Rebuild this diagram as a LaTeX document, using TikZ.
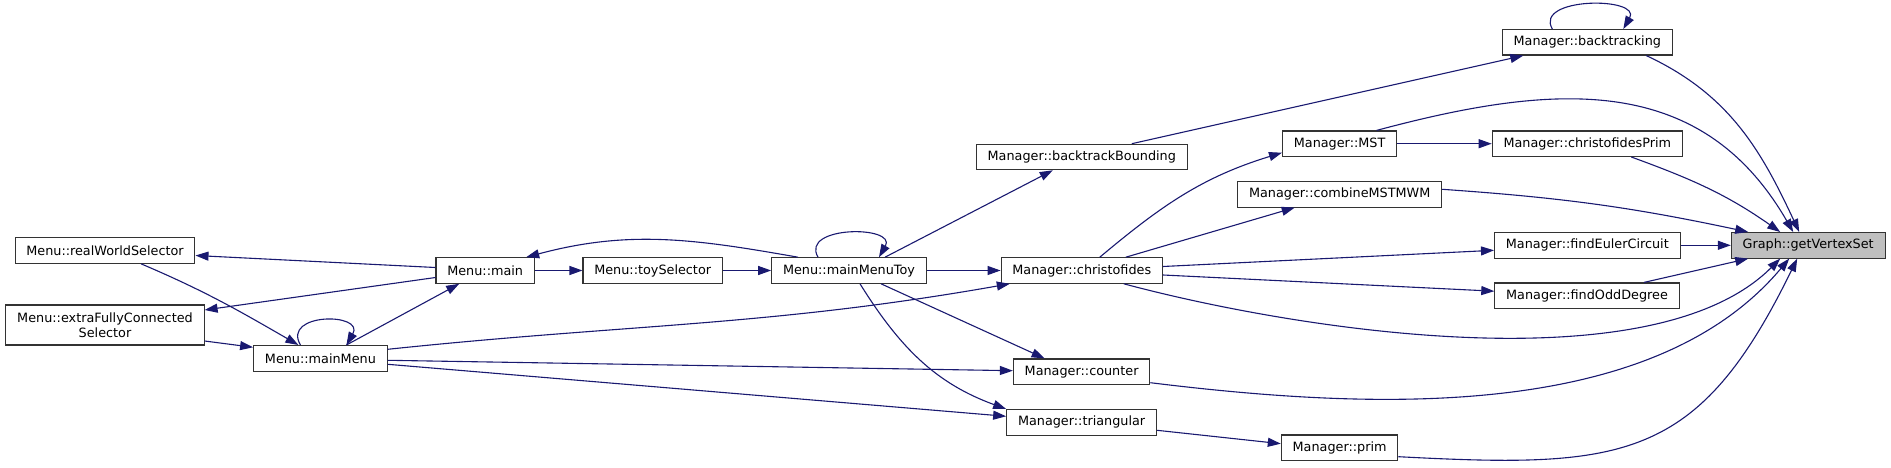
\documentclass[tikz,border=0pt]{standalone}
\usepackage{fontspec}
\setmainfont{DejaVu Sans}
\usetikzlibrary{arrows.meta, positioning}
\definecolor{edgeblue}{HTML}{191970}
\definecolor{boxgray}{HTML}{BFBFBF}

\begin{document}
\begin{tikzpicture}[x=1pt, y=1pt,
    fn/.style={draw=black!80, line width=1.1pt, fill=white, minimum height=25.5pt,
               inner xsep=11.3pt, inner ysep=0pt, font=\fontsize{12.8}{15}\selectfont},
    target/.style={fn, fill=boxgray},
    call/.style={draw=edgeblue, line width=1.1pt, -{Triangle[length=13pt,width=9pt]}}]

    \useasboundingbox (0,0) rectangle (1891,467);

    % Menu functions
    \node[fn] (rws) at (105,216.5) {Menu::realWorldSelector};
    \node[fn, align=center, minimum height=40pt] (efc) at (105,142) {Menu::extraFullyConnected\\Selector};
    \node[fn] (mm) at (320.4,108.7) {Menu::mainMenu};
    \node[fn] (main) at (485.2,196.5) {Menu::main};
    \node[fn] (toy) at (652.7,196.5) {Menu::toySelector};
    \node[fn] (mmt) at (849,196.5) {Menu::mainMenuToy};

    % Manager functions
    \node[fn] (bbound) at (1081.8,310) {Manager::backtrackBounding};
    \node[fn] (chr) at (1081.8,196.5) {Manager::christofides};
    \node[fn] (cnt) at (1081.6,95.3) {Manager::counter};
    \node[fn] (tri) at (1081.6,44.7) {Manager::triangular};
    \node[fn] (mst) at (1339.6,323.3) {Manager::MST};
    \node[fn] (comb) at (1339.7,272.7) {Manager::combineMSTMWM};
    \node[fn] (prim) at (1339.6,19.3) {Manager::prim};
    \node[fn] (bt) at (1587.3,424.7) {Manager::backtracking};
    \node[fn] (cprim) at (1587.3,323.3) {Manager::christofidesPrim};
    \node[fn] (euler) at (1587.3,221.7) {Manager::findEulerCircuit};
    \node[fn] (odd) at (1587,171.3) {Manager::findOddDegree};

    % the function itself
    \node[target] (gvs) at (1808.2,221.7) {Graph::getVertexSet};

    % callers of getVertexSet
    \draw[call] ([xshift=59pt]bt.south) to[out=-25,in=115] ([xshift=-9pt]gvs.north);
    \draw[call] ([xshift=37pt]mst.north) to[out=15,in=120,looseness=1.1] ([xshift=-15pt]gvs.north);
    \draw[call] ([xshift=44pt]cprim.south) to[out=-20,in=145] ([xshift=-28pt]gvs.north);
    \draw[call] ([yshift=5pt]comb.east) to[out=-4,in=168] ([xshift=-60pt]gvs.north);
    \draw[call] (euler.east) -- (gvs.west);
    \draw[call] ([xshift=57pt]odd.north) -- ([xshift=-60pt]gvs.south);
    \draw[call] ([xshift=42pt]chr.south) to[out=-15,in=-135,looseness=0.7] ([xshift=-28pt]gvs.south);
    \draw[call] ([yshift=-11pt]cnt.east) to[out=-7,in=-130,looseness=0.85] ([xshift=-19pt]gvs.south);
    \draw[call] ([yshift=-9pt]prim.east) to[out=-3,in=-116,looseness=1.3] ([xshift=-11pt]gvs.south);

    % Manager calls
    \draw[call] ([xshift=-35pt]bt.north) to[out=120,in=60,looseness=1.35] ([xshift=36pt]bt.north);
    \draw[call] ([xshift=50pt]bbound.north) -- ([xshift=-64pt]bt.south);
    \draw[call] (mst.east) -- (cprim.west);
    \draw[call] ([xshift=18pt]chr.north) to[out=40,in=-163] ([yshift=-9pt]mst.west);
    \draw[call] ([xshift=44pt]chr.north) -- ([xshift=-45pt]comb.south);
    \draw[call] ([yshift=4pt]chr.east) -- ([yshift=-5pt]euler.west);
    \draw[call] ([yshift=-4.5pt]chr.east) -- ([yshift=4.5pt]odd.west);
    \draw[call] ([yshift=-8pt]tri.east) -- ([yshift=4pt]prim.west);

    % mainMenuToy
    \draw[call] ([xshift=36pt]mmt.north) -- ([xshift=-29pt]bbound.south);
    \draw[call] ([xshift=-31pt]mmt.north) to[out=120,in=60,looseness=1.55] ([xshift=30pt]mmt.north);
    \draw[call] (mmt.east) -- (chr.west);
    \draw[call] ([xshift=32pt]mmt.south) -- ([xshift=-37pt]cnt.north);
    \draw[call] ([xshift=11pt]mmt.south) to[out=-58,in=160] (tri.north west);
    \draw[call] ([xshift=-51pt]mmt.north) to[out=170,in=15] ([xshift=41pt]main.north);

    % Menu::main and selectors
    \draw[call] (main.east) -- (toy.west);
    \draw[call] (toy.east) -- (mmt.west);
    \draw[call] ([yshift=3pt]main.west) -- ([yshift=-5pt]rws.east);
    \draw[call] ([yshift=-7pt]main.west) -- ([yshift=15pt]efc.east);

    % Menu::mainMenu
    \draw[call] ([xshift=26pt]mm.north) -- ([xshift=-26pt]main.south);
    \draw[call] ([xshift=-20pt]mm.north) to[out=120,in=60,looseness=2.1] ([xshift=26pt]mm.north);
    \draw[call] ([yshift=9pt]mm.east) to[out=6,in=-170] ([xshift=-72pt]chr.south);
    \draw[call] ([yshift=-2pt]mm.east) -- ([yshift=1pt]cnt.west);
    \draw[call] ([yshift=-6pt]mm.east) -- ([yshift=6pt]tri.west);
    \draw[call] ([xshift=36pt]rws.south) to[out=-23,in=150] ([xshift=-22pt]mm.north);
    \draw[call] ([yshift=-16pt]efc.east) -- ([yshift=11pt]mm.west);

\end{tikzpicture}
\end{document}
